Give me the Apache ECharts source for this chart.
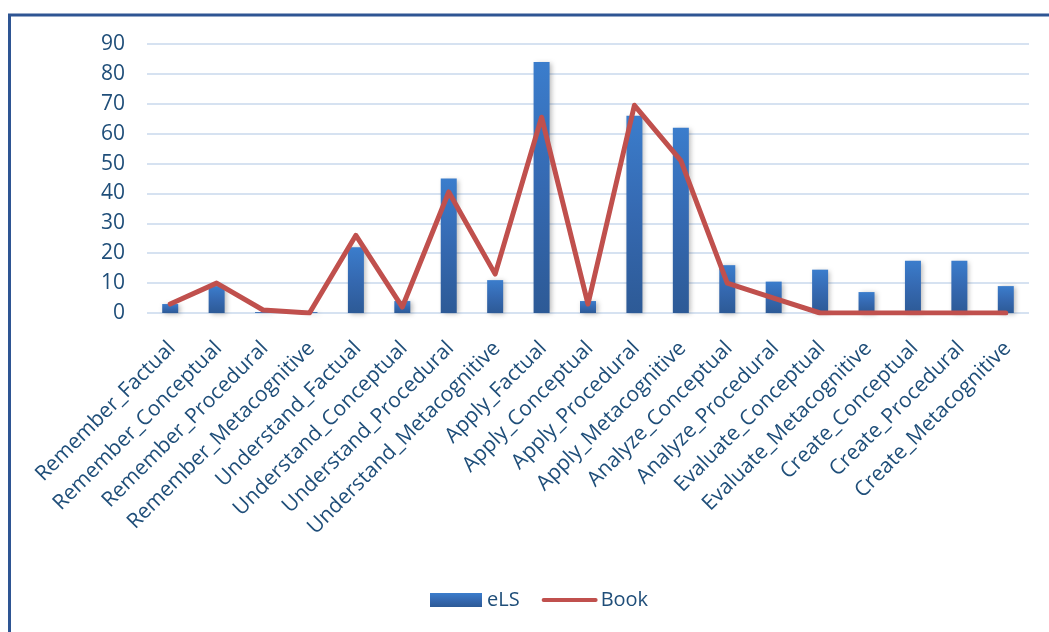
<!DOCTYPE html>
<html>
<head>
<meta charset="utf-8">
<script src="https://cdn.jsdelivr.net/npm/echarts@6/dist/echarts.min.js"></script>
<style>
  html, body { margin: 0; padding: 0; background: #ffffff; }
  #chart { width: 1049px; height: 632px; }
</style>
</head>
<body>
<div id="chart"></div>
<script>
const categories = [
  'Remember_Factual', 'Remember_Conceptual', 'Remember_Procedural', 'Remember_Metacognitive',
  'Understand_Factual', 'Understand_Conceptual', 'Understand_Procedural', 'Understand_Metacognitive',
  'Apply_Factual', 'Apply_Conceptual', 'Apply_Procedural', 'Apply_Metacognitive',
  'Analyze_Conceptual', 'Analyze_Procedural', 'Evaluate_Conceptual', 'Evaluate_Metacognitive',
  'Create_Conceptual', 'Create_Procedural', 'Create_Metacognitive'
];
const elsValues = [3, 9, 0.3, 0.3, 22, 4, 45, 11, 84, 4, 66, 62, 16, 10.5, 14.5, 7, 17.5, 17.5, 9];
const bookValues = [3, 10, 1, 0, 26, 2, 40.5, 13, 65.5, 3, 69.5, 51, 10, 5, 0, 0, 0, 0, 0];
const yTicks = { min: 0, max: 90, interval: 10 };

const textColor = '#1F4E79';
const fontFamily = '"Open Sans", "Noto Sans", sans-serif';

const chart = echarts.init(document.getElementById('chart'), null, { renderer: 'canvas' });
chart.setOption({
  animation: false,
  backgroundColor: '#ffffff',
  graphic: [{
    type: 'rect',
    shape: { x: 9.5, y: 15, width: 1200, height: 800 },
    style: { fill: 'none', stroke: '#2E5593', lineWidth: 3 },
    silent: true
  }],
  grid: { left: 147, right: 20, top: 44, bottom: 319, containLabel: false },
  legend: {
    left: 425,
    top: 585,
    itemWidth: 52,
    itemHeight: 14,
    itemGap: 22,
    textStyle: { color: textColor, fontSize: 20, fontFamily: fontFamily },
    data: [
      { name: 'eLS', icon: 'rect' },
      { name: 'Book', itemStyle: { opacity: 0 }, lineStyle: { width: 4, color: '#C0504D', cap: 'round' } }
    ]
  },
  xAxis: {
    type: 'category',
    data: categories,
    axisLine: { show: false },
    axisTick: { show: false },
    axisLabel: {
      interval: 0,
      rotate: 45,
      align: 'right',
      verticalAlign: 'top',
      margin: 19,
      padding: [0, 8, 0, 0],
      color: textColor,
      fontSize: 21,
      fontFamily: fontFamily
    }
  },
  yAxis: {
    type: 'value',
    min: yTicks.min,
    max: yTicks.max,
    interval: yTicks.interval,
    axisLine: { show: false },
    axisTick: { show: false },
    splitLine: { lineStyle: { color: '#D6E2F1', width: 2 } },
    axisLabel: {
      margin: 22,
      color: textColor,
      fontSize: 21,
      fontFamily: fontFamily
    }
  },
  series: [
    {
      name: 'eLS',
      type: 'bar',
      data: elsValues,
      barWidth: 16,
      itemStyle: {
        color: new echarts.graphic.LinearGradient(0, 0, 0, 1, [
          { offset: 0, color: '#3B7DCC' },
          { offset: 0.5, color: '#3569B1' },
          { offset: 1, color: '#2D5A96' }
        ]),
        shadowColor: 'rgba(0,0,0,0.28)',
        shadowBlur: 5,
        shadowOffsetX: 2,
        shadowOffsetY: 1
      }
    },
    {
      name: 'Book',
      type: 'line',
      data: bookValues,
      symbol: 'circle',
      showSymbol: false,
      lineStyle: { color: '#C0504D', width: 5, cap: 'round', join: 'round' },
      itemStyle: { color: '#C0504D' },
      z: 5
    }
  ]
});
</script>
</body>
</html>
